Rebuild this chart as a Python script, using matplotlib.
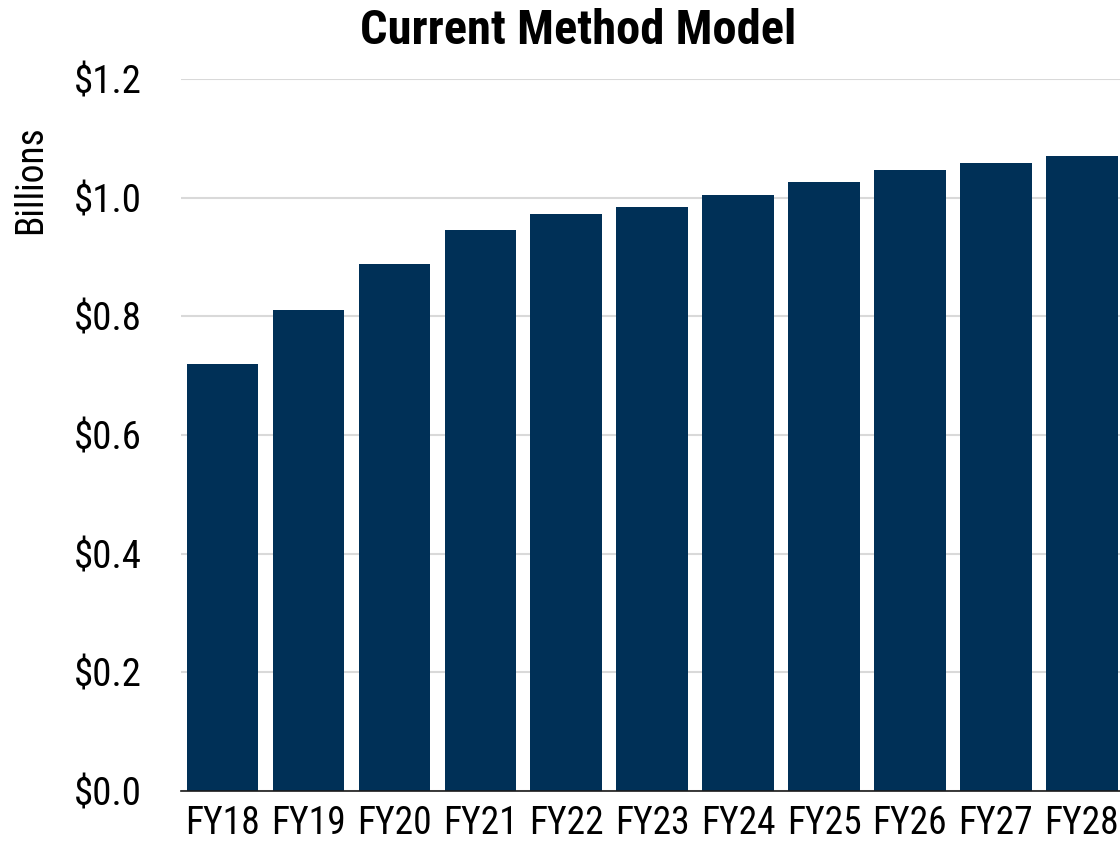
import matplotlib
matplotlib.use("Agg")
from matplotlib import pyplot as plt
from matplotlib.ticker import FuncFormatter

# fiscal years and modelled amounts (billions of dollars)
years = ["FY18", "FY19", "FY20", "FY21", "FY22", "FY23", "FY24", "FY25", "FY26", "FY27", "FY28"]
amounts = [0.719, 0.811, 0.888, 0.945, 0.972, 0.985, 1.004, 1.027, 1.046, 1.059, 1.070]
y_ticks = [0.0, 0.2, 0.4, 0.6, 0.8, 1.0, 1.2]

NAVY = "#003057"
plt.rcParams["font.family"] = ["Nimbus Sans Narrow", "Arial Narrow", "Liberation Sans Narrow",
                               "Roboto Condensed", "PT Sans Narrow", "Liberation Sans", "DejaVu Sans"]

fig = plt.figure(figsize=(11.2, 8.42), dpi=100)
ax = fig.add_axes([181 / 1120, 1 - 791 / 842, 1 - 181 / 1120, (791 - 79) / 842])

ax.bar(range(len(years)), amounts, width=0.833, color=NAVY, zorder=3)

ax.set_xlim(-0.484, 10.445)
ax.set_ylim(0, 1.2)
ax.set_yticks(y_ticks)
ax.yaxis.set_major_formatter(FuncFormatter(lambda v, _: f"${v:.1f}"))
ax.set_xticks(range(len(years)))
ax.set_xticklabels(years)

ax.grid(axis="y", color="#d9d9d9", linewidth=1.5, zorder=0)
for side in ("top", "right", "left"):
    ax.spines[side].set_visible(False)
ax.spines["bottom"].set_color("#1a1a1a")
ax.spines["bottom"].set_linewidth(1.2)
ax.spines["bottom"].set_zorder(4)

ax.tick_params(axis="y", length=0, pad=28, labelsize=28)
ax.tick_params(axis="x", length=0, pad=10, labelsize=27)

fig.text(0.0275, 1 - 180 / 842, "Billions", rotation=90, ha="center", va="center", fontsize=27)
fig.text(578 / 1120, 1 - 31 / 842, "Current Method Model", ha="center", va="center",
         fontsize=35, fontweight="bold")

fig.savefig("out.png", dpi=100)
